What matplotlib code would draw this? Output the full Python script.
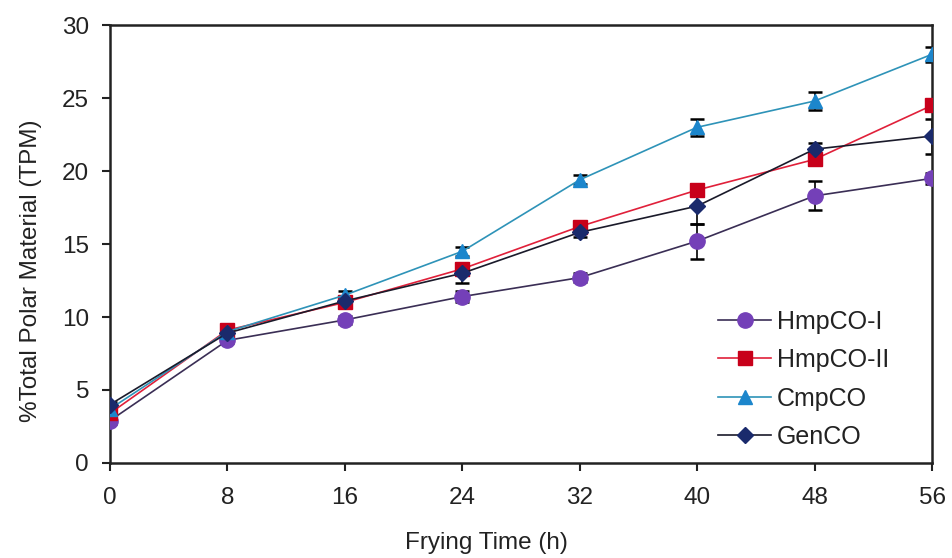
import matplotlib
matplotlib.use("Agg")
import matplotlib.pyplot as plt

plt.rcParams['font.family'] = ['Liberation Sans', 'DejaVu Sans']

hours = [0, 8, 16, 24, 32, 40, 48, 56]
x_ticks = [0, 8, 16, 24, 32, 40, 48, 56]
y_ticks = [0, 5, 10, 15, 20, 25, 30]

hmpco_i = [2.9, 8.4, 9.8, 11.4, 12.7, 15.2, 18.3, 19.5]
hmpco_i_err = [0.2, 0.2, 0.3, 0.4, 0.3, 1.2, 1.0, 0.4]

hmpco_ii = [3.4, 9.1, 11.0, 13.3, 16.2, 18.7, 20.8, 24.5]
hmpco_ii_err = [0.2, 0.2, 0.3, 0.3, 0.3, 0.4, 0.4, 0.4]

cmpco = [3.7, 9.0, 11.5, 14.5, 19.4, 23.0, 24.8, 28.0]
cmpco_err = [0.2, 0.2, 0.3, 0.3, 0.3, 0.6, 0.6, 0.5]

genco = [4.0, 8.9, 11.1, 13.0, 15.8, 17.6, 21.5, 22.4]
genco_err = [0.2, 0.2, 0.3, 0.7, 0.3, 1.2, 0.4, 1.2]

labels = ["HmpCO-I", "HmpCO-II", "CmpCO", "GenCO"]

fig = plt.figure(figsize=(9.52, 5.58), dpi=100)
ax = fig.add_axes([0.1155, 0.1703, 0.8635, 0.7847])

styles = [
    (hmpco_i, hmpco_i_err, "o", "#7440B8", "#3A2E55", 11),
    (hmpco_ii, hmpco_ii_err, "s", "#C8001A", "#E0203A", 10),
    (cmpco, cmpco_err, "^", "#1C86CC", "#2E93B8", 10),
    (genco, genco_err, "D", "#1A2A6C", "#1A1A2A", 8),
]

for (vals, err, mk, mcol, lcol, ms), lab in zip(styles, labels):
    ax.errorbar(hours, vals, yerr=err, fmt="none", ecolor="black",
                elinewidth=1.2, capsize=5, capthick=1.8, zorder=2)
    ax.plot(hours, vals, color=lcol, lw=1.2, marker=mk, markersize=ms,
            markerfacecolor=mcol, markeredgecolor=mcol, label=lab, zorder=3)

ax.set_xlim(0, 56)
ax.set_ylim(0, 30)
ax.set_xticks(x_ticks)
ax.set_yticks(y_ticks)
ax.tick_params(direction="out", length=6, width=1.5, labelsize=17.5,
               colors="#222222")
ax.tick_params(axis="y", pad=9)
ax.tick_params(axis="x", pad=11)
for s in ax.spines.values():
    s.set_linewidth(1.8)
    s.set_color("#222222")

ax.set_xlabel("Frying Time (h)", fontsize=17.5, color="#222222")
ax.xaxis.set_label_coords(0.4575, -0.158)
ax.set_ylabel("%Total Polar Material (TPM)", fontsize=17.5, color="#222222")
ax.yaxis.set_label_coords(-0.083, 0.44)

leg = ax.legend(loc="upper left", bbox_to_anchor=(0.74, 0.35),
                frameon=False, fontsize=18, handlelength=2.1,
                handletextpad=0.25, labelspacing=0.58, borderaxespad=0,
                borderpad=0)
for t in leg.get_texts():
    t.set_color("#222222")

fig.savefig("out.png", dpi=100)
